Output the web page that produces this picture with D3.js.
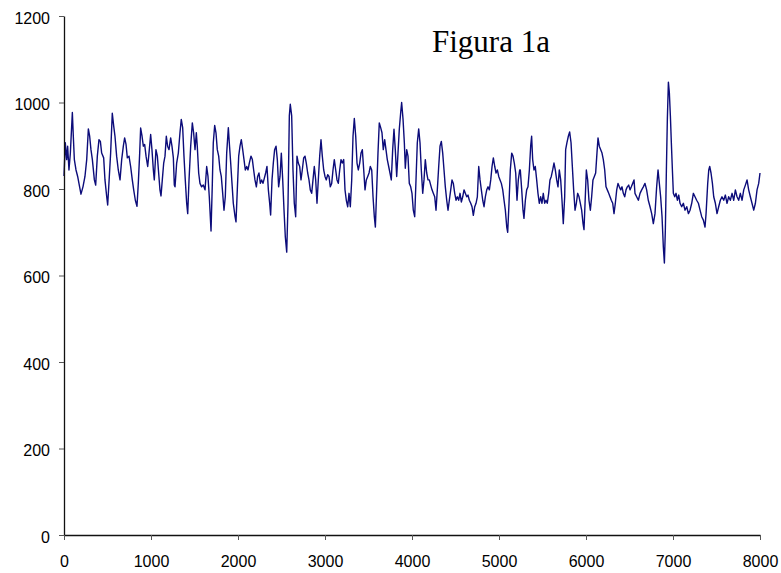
<html>
    <head>
        <style>
        body {
            margin: 0;
            background: #fff;
        }

        .axis text {
            font-family: Arial, 'Liberation Sans', sans-serif;
            font-size: 16px;
            fill: #000;
        }

        .title {
            font-family: 'Times New Roman', 'Liberation Serif', serif;
            font-size: 31px;
        }
        </style>
    </head>
    <body>
        <svg width="781" height="573"></svg>

        <script src="https://d3js.org/d3.v7.min.js"></script>

        <script>
            // sample positions (x) and signal
            let sampleX = [
                0, 15, 31, 42, 57, 73, 96, 107, 119, 138, 157, 172, 195, 218, 241, 261, 280, 295, 310, 326,
                349, 364, 383, 402, 418, 433, 456, 471, 491, 502, 521, 536, 555, 571, 586, 605, 624, 644, 663, 682,
                697, 713, 728, 747, 766, 785, 801, 820, 839, 854, 870, 881, 897, 912, 927, 943, 962, 977, 996, 1011,
                1027, 1038, 1057, 1073, 1088, 1103, 1115, 1130, 1146, 1161, 1176, 1191, 1207, 1226, 1241, 1257, 1268,
                1276, 1295, 1314, 1333, 1348, 1364, 1379, 1394, 1410, 1422, 1437, 1456, 1475, 1490, 1506, 1521, 1532,
                1548, 1563, 1582, 1601, 1621, 1640, 1655, 1670, 1690, 1705, 1716, 1732, 1747, 1762, 1778, 1793, 1808,
                1824, 1839, 1854, 1870, 1889, 1900, 1916, 1931, 1946, 1966, 1977, 1992, 2008, 2023, 2038, 2054, 2069,
                2084, 2100, 2115, 2130, 2149, 2165, 2180, 2195, 2211, 2226, 2241, 2257, 2272, 2287, 2303, 2318, 2333,
                2349, 2364, 2375, 2391, 2406, 2421, 2437, 2452, 2467, 2483, 2498, 2514, 2529, 2544, 2560, 2575, 2590,
                2601, 2617, 2632, 2647, 2663, 2678, 2693, 2709, 2724, 2739, 2755, 2770, 2785, 2801, 2816, 2831, 2847,
                2862, 2877, 2893, 2908, 2923, 2939, 2954, 2969, 2985, 3000, 3015, 3031, 3046, 3061, 3077, 3092, 3107,
                3123, 3138, 3153, 3169, 3184, 3199, 3215, 3230, 3245, 3261, 3276, 3291, 3307, 3322, 3337, 3353, 3368,
                3383, 3399, 3414, 3429, 3445, 3460, 3475, 3491, 3506, 3521, 3537, 3552, 3567, 3579, 3594, 3609, 3624,
                3640, 3655, 3670, 3686, 3701, 3716, 3732, 3747, 3762, 3778, 3793, 3808, 3824, 3839, 3854, 3870, 3881,
                3897, 3912, 3923, 3939, 3954, 3969, 3985, 4000, 4015, 4031, 4046, 4061, 4077, 4092, 4107, 4123, 4138,
                4153, 4169, 4184, 4199, 4215, 4230, 4245, 4261, 4276, 4291, 4307, 4322, 4337, 4353, 4368, 4383, 4399,
                4414, 4429, 4445, 4460, 4475, 4491, 4506, 4521, 4537, 4552, 4567, 4583, 4598, 4613, 4629, 4644, 4659,
                4675, 4690, 4705, 4721, 4736, 4751, 4767, 4782, 4797, 4813, 4828, 4843, 4859, 4874, 4889, 4905, 4920,
                4935, 4951, 4966, 4981, 4997, 5012, 5027, 5043, 5058, 5073, 5089, 5100, 5115, 5130, 5146, 5161, 5176,
                5192, 5207, 5222, 5238, 5245, 5261, 5276, 5287, 5303, 5318, 5333, 5349, 5364, 5375, 5387, 5402, 5417,
                5433, 5448, 5463, 5479, 5494, 5509, 5525, 5540, 5555, 5571, 5586, 5601, 5617, 5632, 5647, 5663, 5678,
                5693, 5709, 5724, 5739, 5755, 5766, 5781, 5797, 5812, 5828, 5843, 5858, 5874, 5889, 5904, 5920, 5935,
                5950, 5966, 5977, 5992, 6004, 6019, 6034, 6050, 6065, 6080, 6096, 6111, 6126, 6138, 6153, 6169, 6184,
                6199, 6215, 6230, 6245, 6261, 6276, 6291, 6307, 6322, 6337, 6353, 6368, 6383, 6399, 6414, 6429, 6445,
                6460, 6475, 6491, 6506, 6521, 6537, 6552, 6563, 6582, 6602, 6621, 6640, 6659, 6678, 6697, 6716, 6736,
                6755, 6774, 6793, 6812, 6828, 6843, 6858, 6874, 6889, 6901, 6912, 6924, 6935, 6947, 6958, 6970, 6981,
                6993, 7004, 7020, 7035, 7050, 7066, 7081, 7100, 7119, 7138, 7158, 7177, 7196, 7215, 7234, 7253, 7272,
                7292, 7311, 7330, 7349, 7368, 7380, 7399, 7411, 7422, 7437, 7453, 7468, 7487, 7506, 7525, 7544, 7563,
                7583, 7602, 7621, 7640, 7659, 7679, 7698, 7717, 7736, 7755, 7774, 7794, 7813, 7832, 7851, 7870, 7889,
                7908, 7928, 7947, 7966, 7985, 8000
            ]

            let signal = [
                830, 907, 868, 899, 844, 883, 977, 922, 868, 844, 829, 813, 788, 805, 829, 868, 939, 922, 891, 868,
                821, 809, 876, 914, 910, 883, 872, 821, 782, 763, 829, 883, 975, 946, 922, 876, 844, 821, 868, 899,
                918, 903, 872, 876, 852, 821, 798, 774, 760, 813, 883, 941, 922, 899, 903, 876, 852, 883, 926, 891,
                844, 821, 891, 876, 837, 798, 784, 821, 860, 876, 922, 899, 891, 918, 899, 872, 809,
                805, 860, 883, 930, 961, 942, 876, 821, 767, 743, 821, 899, 953, 930, 891, 930, 899,
                837, 813, 805, 809, 798, 852, 829, 782, 703, 813, 907, 947, 930, 891, 876, 844, 829,
                790, 751, 782, 883, 942, 907, 860, 813, 767, 736, 724, 798, 876, 899, 914, 891, 868,
                844, 852, 844, 860, 876, 868, 844, 821, 805, 829, 837, 813, 821, 813, 825, 837, 852,
                798, 767, 740, 821, 860, 891, 899, 868, 805, 829, 883, 821, 751, 689, 654, 767, 969,
                996, 969, 844, 767, 736, 876, 860, 852, 821, 844, 872, 876, 860, 837, 821, 798, 790,
                821, 852, 821, 767, 821, 876, 914, 876, 844, 829, 821, 833, 829, 805, 813, 844, 868,
                844, 821, 813, 844, 868, 860, 868, 798, 774, 759, 790, 759, 821, 922, 963, 922, 860,
                844, 860, 883, 891, 844, 798, 821, 829, 837, 852, 844, 782, 736, 712, 798, 883, 953,
                942, 930, 891, 914, 891, 868, 852, 837, 821, 891, 938, 891, 829, 883, 938, 977, 1000,
                961, 907, 848, 891, 876, 813, 805, 790, 751, 736, 821, 907, 939, 907, 844, 790, 821,
                868, 837, 821, 821, 809, 798, 790, 782, 751, 798, 852, 899, 910, 883, 844, 805, 774,
                751, 774, 798, 821, 813, 790, 774, 782, 774, 790, 770, 782, 798, 790, 782, 786, 774,
                767, 759, 739, 759, 767, 782, 852, 821, 798, 774, 759, 782, 798, 805, 798, 821, 852,
                872, 852, 837, 844, 829, 821, 813, 798, 774, 751, 712, 700, 767, 844, 883, 876, 860,
                837, 774, 821, 844, 844, 798, 751, 732, 774, 798, 805, 844, 899, 922, 868, 844, 852,
                821, 790, 767, 782, 767, 790, 767, 774, 767, 790, 821, 829, 844, 860, 844, 821, 805,
                844, 821, 774, 720, 782, 891, 907, 922, 932, 907, 852, 798, 751, 767, 790, 782, 767,
                751, 720, 706, 782, 844, 821, 774, 751, 782, 821, 829, 837, 883, 918, 899, 891, 883,
                868, 844, 805, 798, 790, 782, 774, 767, 743, 767, 798, 813, 805, 798, 805, 790, 782,
                798, 805, 809, 798, 805, 813, 821, 790, 782, 774, 790, 798, 805, 813, 798, 774, 759,
                743, 720, 743, 805, 844, 813, 782, 736, 666, 629, 705, 844, 961, 1047, 1023, 969, 907,
                844, 790, 782, 790, 774, 786, 767, 759, 767, 751, 759, 743, 751, 767, 790, 782, 774,
                767, 751, 736, 728, 712, 743, 813, 844, 852, 837, 813, 782, 767, 743, 759, 774, 782,
                774, 786, 767, 782, 774, 790, 774, 798, 782, 774, 790, 774, 798, 809, 821, 798, 782,
                767, 751, 767, 798, 813, 837
            ]

            let xTicks = [0, 1000, 2000, 3000, 4000, 5000, 6000, 7000, 8000]
            let yTicks = [0, 200, 400, 600, 800, 1000, 1200]
            let chartTitle = "Figura 1a"

            let margin = {left: 64, right: 21, top: 16, bottom: 38}
            let width = 781
            let height = 573

            let svg = d3.select("svg")

            let x = d3.scaleLinear()
                .domain([0, 8000])
                .range([margin.left, width - margin.right])

            let y = d3.scaleLinear()
                .domain([0, 1200])
                .range([height - margin.bottom, margin.top])

            let data = sampleX.map((d, i) => [d, signal[i]])

            let line = d3.line()
                .x(d => x(d[0]))
                .y(d => y(d[1]))

            svg.append("path")
                .datum(data)
                .attr("d", line)
                .style("fill", "none")
                .style("stroke", "#0c0c7a")
                .style("stroke-width", 1.4)
                .style("stroke-linejoin", "round")

            let yAxis = svg.append("g")
                .attr("class", "axis")
                .attr("transform", "translate(" + margin.left + ",0)")
                .call(d3.axisLeft(y).tickValues(yTicks).tickFormat(d3.format("d"))
                    .tickSize(5).tickPadding(9).tickSizeOuter(0))

            yAxis.selectAll("text").attr("dy", "0.45em")

            let xAxis = svg.append("g")
                .attr("class", "axis")
                .attr("transform", "translate(0," + (height - margin.bottom) + ")")
                .call(d3.axisBottom(x).tickValues(xTicks).tickFormat(d3.format("d"))
                    .tickSize(5).tickPadding(16).tickSizeOuter(0))

            svg.selectAll(".axis .domain").style("stroke", "#111").style("stroke-width", 1.3)
            svg.selectAll(".axis .tick line").style("stroke", "#555")

            svg.append("text")
                .attr("class", "title")
                .attr("x", 432)
                .attr("y", 52)
                .text(chartTitle)
        </script>
    </body>
</html>
